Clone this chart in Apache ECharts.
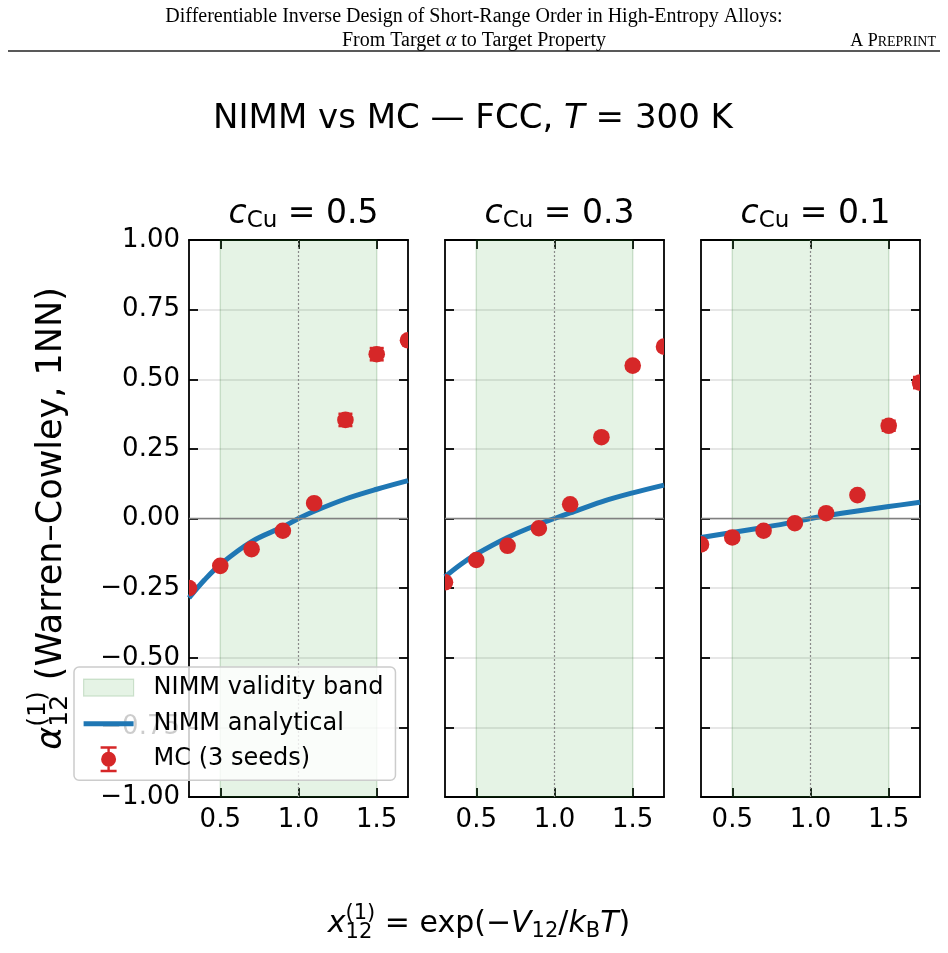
<!DOCTYPE html>
<html>
<head>
<meta charset="UTF-8">
<title>NIMM vs MC</title>
<script src="https://cdn.jsdelivr.net/npm/echarts@6/dist/echarts.min.js"></script>
<style>
  body { margin: 0; background: #ffffff; }
  #container { width: 948px; height: 953px; }
</style>
</head>
<body>
<div id="container"></div>
<script>
// ---- data ----
var concentrations = ['0.5', '0.3', '0.1'];
var xTicks = [0.5, 1.0, 1.5];
var band = [0.5, 1.5];

var mcX = [0.3, 0.5, 0.7, 0.9, 1.1, 1.3, 1.5, 1.7];
var mcY1 = [-0.25, -0.17, -0.11, -0.044, 0.055, 0.354, 0.59, 0.64];
var mcY2 = [-0.229, -0.149, -0.098, -0.035, 0.051, 0.292, 0.549, 0.617];
var mcY3 = [-0.093, -0.068, -0.044, -0.017, 0.019, 0.084, 0.333, 0.488];
var mcErr1 = [0.006, 0.005, 0.005, 0.005, 0.006, 0.022, 0.022, 0.012];
var mcErr2 = [0.005, 0.004, 0.004, 0.004, 0.005, 0.012, 0.012, 0.012];
var mcErr3 = [0.004, 0.003, 0.003, 0.003, 0.004, 0.01, 0.018, 0.02];

var lineX = [0.3, 0.4, 0.5, 0.7, 0.9, 1.0, 1.1, 1.3, 1.5, 1.7];
var lineY1 = [-0.285, -0.22, -0.165, -0.083, -0.03, 0, 0.026, 0.07, 0.105, 0.136];
var lineY2 = [-0.209, -0.165, -0.128, -0.068, -0.02, 0, 0.02, 0.06, 0.092, 0.12];
var lineY3 = [-0.068, -0.059, -0.05, -0.032, -0.012, 0, 0.01, 0.027, 0.043, 0.058];

var mcY = [mcY1, mcY2, mcY3];
var mcErr = [mcErr1, mcErr2, mcErr3];
var lineY = [lineY1, lineY2, lineY3];

var RED = '#d62728', BLUE = '#1f77b4';
var FONT = 'DejaVu Sans';
var gridLeft = [189, 445, 701];
var gridW = 219, gridTop = 240, gridH = 557;

var dom = document.getElementById('container');
var myChart = echarts.init(dom);

function mcItem(params, api) {
  var x = api.value(0), y = api.value(1), e = api.value(2);
  var c = api.coord([x, y]);
  var t = api.coord([x, y + e]);
  var b = api.coord([x, y - e]);
  var hw = 7;
  return {
    type: 'group',
    children: [
      { type: 'line', shape: { x1: t[0], y1: t[1], x2: b[0], y2: b[1] }, style: { stroke: RED, lineWidth: 2.5 } },
      { type: 'line', shape: { x1: t[0] - hw, y1: t[1], x2: t[0] + hw, y2: t[1] }, style: { stroke: RED, lineWidth: 2.5 } },
      { type: 'line', shape: { x1: b[0] - hw, y1: b[1], x2: b[0] + hw, y2: b[1] }, style: { stroke: RED, lineWidth: 2.5 } },
      { type: 'circle', shape: { cx: c[0], cy: c[1], r: 8.3 }, style: { fill: RED } }
    ]
  };
}

// rich-text pieces for math labels (all left aligned so the stacked sub/sup works)
function mathRich(size) {
  var small = Math.round(size * 0.7);
  return {
    i: { fontFamily: FONT, fontSize: size, fontStyle: 'italic', color: '#000', align: 'left' },
    n: { fontFamily: FONT, fontSize: size, color: '#000', align: 'left' },
    sb: { fontFamily: FONT, fontSize: small, color: '#000', align: 'left', width: 0, padding: [Math.round(size * 0.52), 0, 0, 0] },
    sp: { fontFamily: FONT, fontSize: small, color: '#000', align: 'left', padding: [0, 0, Math.round(size * 0.74), 0] },
    s2: { fontFamily: FONT, fontSize: small, color: '#000', align: 'left', padding: [Math.round(size * 0.46), 0, 0, 0] }
  };
}

var grids = [], xAxes = [], yAxes = [], series = [];
var titles = [
  { text: 'Differentiable Inverse Design of Short-Range Order in High-Entropy Alloys:', left: 'center', top: 2,
    textStyle: { fontFamily: 'Liberation Serif', fontSize: 20, fontWeight: 'normal', color: '#000' } },
  { text: 'From Target {a|α} to Target Property', left: 'center', top: 26,
    textStyle: { fontFamily: 'Liberation Serif', fontSize: 20, fontWeight: 'normal', color: '#000',
      rich: { a: { fontFamily: 'Liberation Serif', fontSize: 20, fontStyle: 'italic', color: '#000' } } } },
  { text: 'A P{s|REPRINT}', right: 7, top: 27,
    textStyle: { fontFamily: 'Liberation Serif', fontSize: 18, fontWeight: 'normal', color: '#000',
      rich: { s: { fontFamily: 'Liberation Serif', fontSize: 14, color: '#000', padding: [2, 0, 0, 0] } } } },
  { text: '{n|NIMM vs MC — FCC, }{i|T}{n| = 300 K}', left: 468, textAlign: 'center', top: 97,
    textStyle: { fontFamily: FONT, fontSize: 34, fontWeight: 'normal', color: '#000', rich: mathRich(34) } },
  { text: '{i|x}{sb|12}{sp|(1)}{n| = exp(−}{i|V}{s2|12}{n|/}{i|k}{s2|B}{i|T}{n|)}', left: 474, textAlign: 'center', top: 898,
    textStyle: { fontFamily: FONT, fontSize: 30, fontWeight: 'normal', color: '#000', rich: mathRich(30) } }
];

for (var i = 0; i < 3; i++) {
  grids.push({ left: gridLeft[i], top: gridTop, width: gridW, height: gridH });

  titles.push({
    text: '{i|c}{s2|Cu}{n| = ' + concentrations[i] + '}',
    left: gridLeft[i] + gridW / 2, textAlign: 'center', top: 190,
    textStyle: { fontFamily: FONT, fontSize: 33, fontWeight: 'normal', color: '#000', rich: mathRich(33) }
  });

  var axLine = { show: true, onZero: false, lineStyle: { color: '#000', width: 1.8 } };
  var tick = { show: true, inside: true, length: 9, lineStyle: { color: '#000', width: 1.8 } };

  xAxes.push({
    gridIndex: i, type: 'value', min: 0.3, max: 1.7, position: 'bottom',
    axisLine: axLine,
    axisTick: echarts.util.merge({ customValues: xTicks }, tick, true),
    axisLabel: { customValues: xTicks, margin: 10, fontFamily: FONT, fontSize: 26, color: '#000',
      formatter: function (v) { return v.toFixed(1); } },
    splitLine: { show: false }
  });
  xAxes.push({
    gridIndex: i, type: 'value', min: 0.3, max: 1.7, position: 'top',
    axisLine: axLine,
    axisTick: echarts.util.merge({ customValues: xTicks }, tick, true),
    axisLabel: { show: false },
    splitLine: { show: false }
  });

  var yLeft = {
    gridIndex: i, type: 'value', min: -1, max: 1, interval: 0.25, position: 'left',
    axisLine: axLine, axisTick: tick,
    axisLabel: { show: i === 0, margin: 9, fontFamily: FONT, fontSize: 26, color: '#000',
      formatter: function (v) { return v.toFixed(2).replace('-', '\u2212'); } },
    splitLine: { show: true, lineStyle: { color: 'rgba(0,0,0,0.13)', width: 1.6 } }
  };
  if (i === 0) {
    yLeft.name = '{i|α}{sb|12}{sp|(1)}{n| (Warren–Cowley, 1NN)}';
    yLeft.nameLocation = 'middle';
    yLeft.nameRotate = 90;
    yLeft.nameGap = 112;
    yLeft.nameTextStyle = { fontFamily: FONT, fontSize: 35, color: '#000', rich: mathRich(35) };
  }
  yAxes.push(yLeft);
  yAxes.push({
    gridIndex: i, type: 'value', min: -1, max: 1, interval: 0.25, position: 'right',
    axisLine: axLine, axisTick: tick,
    axisLabel: { show: false }, splitLine: { show: false }
  });

  // validity band, zero line and x = 1 guide
  series.push({
    name: 'NIMM validity band', type: 'line', xAxisIndex: 2 * i, yAxisIndex: 2 * i,
    data: [], silent: true, z: 1,
    markArea: {
      silent: true,
      itemStyle: { color: 'rgba(44,160,44,0.12)', borderColor: 'rgba(30,110,30,0.18)', borderWidth: 1.5 },
      data: [[{ xAxis: band[0] }, { xAxis: band[1] }]]
    },
    markLine: {
      silent: true, symbol: 'none', label: { show: false },
      data: [
        { yAxis: 0, lineStyle: { color: '#808080', width: 1.3, type: 'solid' } },
        { xAxis: 1.0, lineStyle: { color: '#8a8a8a', width: 1.2, type: [2, 2] } }
      ]
    }
  });

  var lineData = [];
  for (var k = 0; k < lineX.length; k++) lineData.push([lineX[k], lineY[i][k]]);
  series.push({
    name: 'NIMM analytical', type: 'line', xAxisIndex: 2 * i, yAxisIndex: 2 * i,
    data: lineData, smooth: 0.35, showSymbol: false, clip: true, z: 3,
    lineStyle: { color: BLUE, width: 5 }, itemStyle: { color: BLUE }
  });

  var mcData = [];
  for (var m = 0; m < mcX.length; m++) mcData.push([mcX[m], mcY[i][m], mcErr[i][m]]);
  series.push({
    name: 'MC (3 seeds)', type: 'custom', xAxisIndex: 2 * i, yAxisIndex: 2 * i,
    data: mcData, renderItem: mcItem, clip: true, z: 5,
    encode: { x: 0, y: 1 }, itemStyle: { color: RED }
  });
}

var option = {
  backgroundColor: '#ffffff',
  animation: false,
  textStyle: { fontFamily: FONT },
  title: titles,
  grid: grids,
  xAxis: xAxes,
  yAxis: yAxes,
  legend: {
    orient: 'vertical', left: 74, top: 667,
    padding: [6, 12, 7, 9],
    itemWidth: 65, itemHeight: 28, itemGap: 7.5,
    selectedMode: false, z: 20,
    backgroundColor: 'rgba(255,255,255,0.8)', borderColor: '#cccccc', borderWidth: 1.5, borderRadius: 5,
    textStyle: { fontFamily: FONT, fontSize: 24, color: '#000', padding: [0, 0, 0, 0] },
    data: [
      { name: 'NIMM validity band', icon: 'path://M0,0 M65,28 M0,5.5 L50,5.5 L50,22.5 L0,22.5 Z',
        itemStyle: { color: 'rgba(44,160,44,0.12)', borderColor: 'rgba(30,110,30,0.18)', borderWidth: 1.2 } },
      { name: 'NIMM analytical', icon: 'path://M0,0 M65,28 M0,11.5 L50,11.5 L50,16.5 L0,16.5 Z',
        itemStyle: { color: BLUE, borderWidth: 0 } },
      { name: 'MC (3 seeds)',
        icon: 'path://M0,0 M65,28 M23.8,1 L26.2,1 L26.2,27 L23.8,27 Z M17,1 L33,1 L33,3.5 L17,3.5 Z M17,24.5 L33,24.5 L33,27 L17,27 Z M17.5,14 A7.5,7.5 0 1,1 32.5,14 A7.5,7.5 0 1,1 17.5,14 Z',
        itemStyle: { color: RED, borderWidth: 0 } }
    ]
  },
  graphic: [
    { type: 'line', shape: { x1: 8, y1: 51, x2: 940, y2: 51 }, style: { stroke: '#222', lineWidth: 1.4 }, silent: true }
  ],
  series: series
};

myChart.setOption(option, true);

window.onresize = function () {
  myChart.resize();
};
</script>
</body>
</html>
